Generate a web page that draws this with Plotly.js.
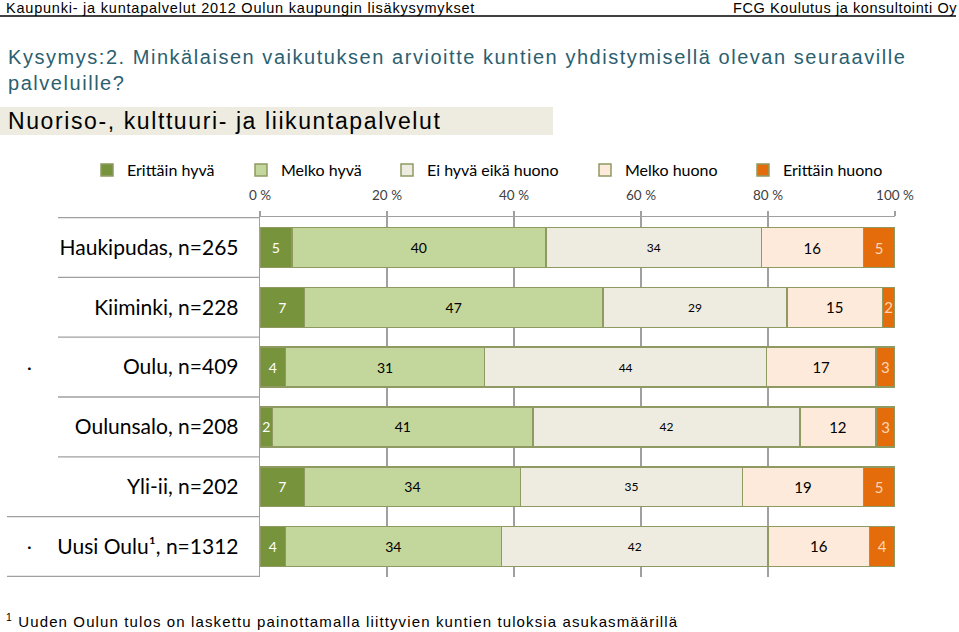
<!DOCTYPE html>
<html><head><meta charset="utf-8">
<script src="https://cdn.plot.ly/plotly-3.0.1.min.js"></script>
<style>
html,body{margin:0;padding:0;background:#fff;overflow:hidden}
#chart g.annotation[data-index="0"] text{letter-spacing:0.78px}
#chart g.annotation[data-index="1"] text{letter-spacing:0.6px}
#chart g.annotation[data-index="2"] text{letter-spacing:1.54px}
#chart g.annotation[data-index="3"] text{letter-spacing:1.6px}
#chart g.annotation[data-index="6"] text{letter-spacing:1.12px}
</style>
</head><body><div id="chart" style="width:959px;height:632px"></div>
<script>
// ---- data ----
const categories = ["Haukipudas, n=265", "Kiiminki, n=228", "Oulu, n=409", "Oulunsalo, n=208", "Yli-ii, n=202", "Uusi Oulu\u00b9, n=1312"];
const seriesNames = ["Erittäin hyvä", "Melko hyvä", "Ei hyvä eikä huono", "Melko huono", "Erittäin huono"];
const erittainHyva = [5, 7, 4, 2, 7, 4];
const melkoHyva = [40, 47, 31, 41, 34, 34];
const eiHyvaEikaHuono = [34, 29, 44, 42, 35, 42];
const melkoHuono = [16, 15, 17, 12, 19, 16];
const erittainHuono = [5, 2, 3, 3, 5, 4];
const tickValues = [0, 20, 40, 60, 80, 100];
const tickLabels = ["0 %", "20 %", "40 %", "60 %", "80 %", "100 %"];

// ---- styles ----
const seriesValues = [erittainHyva, melkoHyva, eiHyvaEikaHuono, melkoHuono, erittainHuono];
const fills = ["#77933C", "#C3D69B", "#EEECE1", "#FDEADA", "#E46C0A"];
const textColors = ["#FFFFFF", "#000000", "#000000", "#000000", "#FCD5B4"];
const textSizes = [14, 14, 12, 15, 15];
const labelFont = "Lato, 'Open Sans', sans-serif";
const arial = "'Liberation Sans', Arial, sans-serif";
const W = 959, H = 632, L = 260, R = 64, T = 217, B = 55;
const PW = W - L - R, PH = H - T - B;
const px = x => (x - L) / PW;
const py = y => 1 - (y - T) / PH;
const legendLeft = [87, 241, 387, 585, 743];
const legendIds = ["legend", "legend2", "legend3", "legend4", "legend5"];

const traces = seriesValues.map((vals, i) => ({
  type: "bar",
  orientation: "h",
  name: seriesNames[i],
  legend: legendIds[i],
  y: categories,
  x: vals,
  text: vals.map(String),
  texttemplate: "%{text}",
  textposition: "inside",
  insidetextanchor: "middle",
  textangle: 0,
  constraintext: "none",
  textfont: { family: labelFont, size: textSizes[i], color: textColors[i] },
  marker: { color: fills[i], line: { color: "#8E9A62", width: 1.5 } },
  hoverinfo: "skip"
}));

const shapes = [
  { type: "line", xref: "paper", yref: "paper", x0: px(0), x1: px(956), y0: py(16), y1: py(16), line: { color: "#404040", width: 2 } },
  { type: "rect", xref: "paper", yref: "paper", x0: px(0), x1: px(553), y0: py(107), y1: py(135), fillcolor: "#EEECE1", line: { width: 0 }, layer: "below" }
];
// category separators
const sepStarts = [58, 58, 58, 58, 58, 7, 7];
for (let k = 0; k < 7; k++) {
  shapes.push({ type: "line", xref: "paper", yref: "y", x0: px(sepStarts[k]), x1: 0, y0: k - 0.5, y1: k - 0.5, line: { color: "#A0A0A0", width: 1.3 } });
}

const annotations = [
  { xref: "paper", yref: "paper", x: px(4), y: py(8), xanchor: "left", yanchor: "middle", align: "left", showarrow: false,
    text: "Kaupunki- ja kuntapalvelut 2012 Oulun kaupungin lisäkysymykset", font: { family: arial, size: 14.5, color: "#000" } },
  { xref: "paper", yref: "paper", x: px(731), y: py(8), xanchor: "left", yanchor: "middle", align: "left", showarrow: false,
    text: "FCG Koulutus ja konsultointi Oy", font: { family: arial, size: 14.5, color: "#000" } },
  { xref: "paper", yref: "paper", x: px(6), y: py(70), xanchor: "left", yanchor: "middle", align: "left", showarrow: false,
    text: "Kysymys:2. Minkälaisen vaikutuksen arvioitte kuntien yhdistymisellä olevan seuraaville<br>palveluille?",
    font: { family: arial, size: 20, color: "#2B6070" } },
  { xref: "paper", yref: "paper", x: px(6), y: py(121), xanchor: "left", yanchor: "middle", align: "left", showarrow: false,
    text: "Nuoriso-, kulttuuri- ja liikuntapalvelut", font: { family: arial, size: 23, color: "#000" } },
  { xref: "paper", yref: "y", x: px(30), y: 2, xanchor: "center", yanchor: "middle", showarrow: false, text: "·", font: { family: labelFont, size: 18, color: "#000" } },
  { xref: "paper", yref: "y", x: px(30), y: 5, xanchor: "center", yanchor: "middle", showarrow: false, text: "·", font: { family: labelFont, size: 18, color: "#000" } },
  { xref: "paper", yref: "paper", x: px(4), y: py(620), xanchor: "left", yanchor: "middle", align: "left", showarrow: false,
    text: "<sup>1</sup> Uuden Oulun tulos on laskettu painottamalla liittyvien kuntien tuloksia asukasmäärillä",
    font: { family: arial, size: 15, color: "#000" } }
];

const layout = {
  width: W, height: H,
  margin: { l: L, r: R, t: T, b: B, pad: 0 },
  paper_bgcolor: "#fff", plot_bgcolor: "#fff",
  barmode: "stack", barnorm: "percent", bargap: 1 / 3,
  showlegend: true,
  xaxis: { side: "top", range: [0, 100], tickvals: tickValues, ticktext: tickLabels, ticks: "outside", ticklen: 5,
    tickcolor: "#A0A0A0", tickwidth: 1.3, showgrid: true, gridcolor: "#A0A0A0", gridwidth: 1.3, showline: true,
    linecolor: "#A0A0A0", linewidth: 1.3, zeroline: false, ticklabelstandoff: 5,
    tickfont: { family: labelFont, size: 13.5, color: "#404040" }, fixedrange: true },
  yaxis: { type: "category", autorange: "reversed", showgrid: false, zeroline: false, showline: true,
    linecolor: "#A0A0A0", linewidth: 1.3, ticks: "", ticklabelstandoff: 16,
    tickfont: { family: labelFont, size: 21, color: "#000" }, fixedrange: true },
  shapes: shapes,
  annotations: annotations
};
legendIds.forEach((id, i) => {
  layout[id] = { orientation: "h", x: px(legendLeft[i]), y: py(170), xanchor: "left", yanchor: "middle",
    font: { family: labelFont, size: 16, color: "#000" }, itemwidth: 30, bgcolor: "rgba(0,0,0,0)" };
});

Plotly.newPlot("chart", traces, layout, { displayModeBar: false, staticPlot: true });
</script>
</body></html>
